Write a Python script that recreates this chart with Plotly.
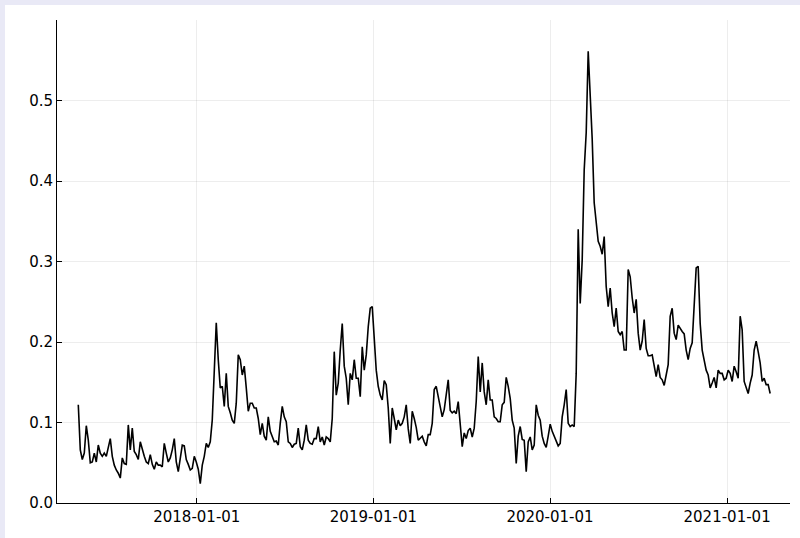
import pandas as pd
import plotly.graph_objects as go

start_date = "2017-05-01"
end_date = "2021-03-31"

values_2017 = [
    0.122, 0.066, 0.054, 0.062, 0.096, 0.078, 0.050, 0.051, 0.062, 0.051,
    0.072, 0.062, 0.058, 0.062, 0.058, 0.068, 0.080, 0.058, 0.047, 0.041,
    0.037, 0.031, 0.056, 0.049, 0.048, 0.097, 0.066, 0.093, 0.064, 0.060,
    0.054, 0.076, 0.066, 0.058, 0.051, 0.049, 0.060, 0.048, 0.042, 0.051,
    0.047, 0.047, 0.045, 0.074, 0.062, 0.051, 0.056, 0.066, 0.080, 0.051,
    0.039, 0.054, 0.072, 0.071, 0.054, 0.048, 0.041, 0.043, 0.058, 0.051,
    0.042, 0.024, 0.047, 0.058, 0.074, 0.069, 0.076, 0.103, 0.157, 0.224,
    0.178, 0.143, 0.145, 0.120, 0.161, 0.120,
]
values_2018 = [
    0.112, 0.103, 0.099, 0.124, 0.184, 0.178, 0.159, 0.170, 0.143, 0.114,
    0.124, 0.124, 0.118, 0.118, 0.105, 0.085, 0.099, 0.083, 0.078, 0.107,
    0.089, 0.082, 0.076, 0.077, 0.072, 0.099, 0.120, 0.107, 0.101, 0.076,
    0.074, 0.069, 0.073, 0.074, 0.093, 0.070, 0.066, 0.078, 0.097, 0.078,
    0.074, 0.073, 0.080, 0.080, 0.095, 0.076, 0.082, 0.072, 0.082, 0.080,
    0.076, 0.105, 0.188, 0.134, 0.149, 0.190, 0.223, 0.170, 0.155, 0.122,
    0.161, 0.153, 0.178, 0.155, 0.155, 0.132, 0.194, 0.165, 0.184, 0.219,
    0.242, 0.244, 0.196, 0.165, 0.145, 0.134,
]
values_2019 = [
    0.128, 0.152, 0.147, 0.118, 0.074, 0.118, 0.105, 0.091, 0.103, 0.096,
    0.099, 0.107, 0.122, 0.092, 0.074, 0.114, 0.105, 0.094, 0.078, 0.080,
    0.083, 0.076, 0.071, 0.085, 0.085, 0.099, 0.141, 0.145, 0.132, 0.116,
    0.107, 0.116, 0.134, 0.153, 0.115, 0.112, 0.114, 0.111, 0.126, 0.101,
    0.070, 0.087, 0.080, 0.090, 0.093, 0.082, 0.093, 0.126, 0.182, 0.138,
    0.174, 0.138, 0.122, 0.153, 0.128, 0.128, 0.107, 0.105, 0.101, 0.101,
    0.122, 0.125, 0.156, 0.145, 0.130, 0.103, 0.093, 0.049, 0.083, 0.095,
    0.079, 0.078, 0.039, 0.076, 0.082, 0.066, 0.072, 0.122, 0.109, 0.103,
]
values_2020 = [
    0.083, 0.074, 0.069, 0.083, 0.098, 0.089, 0.083, 0.078, 0.071, 0.074,
    0.107, 0.122, 0.141, 0.099, 0.095, 0.097, 0.095, 0.161, 0.340, 0.248,
    0.302, 0.414, 0.460, 0.561, 0.508, 0.452, 0.373, 0.344, 0.325, 0.319,
    0.309, 0.331, 0.269, 0.244, 0.267, 0.236, 0.219, 0.242, 0.213, 0.209,
    0.213, 0.190, 0.190, 0.290, 0.281, 0.255, 0.236, 0.253, 0.211,
]
values_2020b = [
    0.190, 0.201, 0.228, 0.192, 0.183, 0.183, 0.184, 0.172, 0.157, 0.172,
    0.156, 0.153, 0.146, 0.159, 0.172, 0.232, 0.242, 0.211, 0.203, 0.221,
    0.216, 0.213, 0.210, 0.190, 0.178, 0.192, 0.199, 0.244, 0.292, 0.294,
    0.223, 0.190, 0.176, 0.165, 0.159, 0.143, 0.149, 0.156, 0.143, 0.165,
    0.161, 0.161, 0.153, 0.155, 0.165, 0.161, 0.151, 0.170, 0.163, 0.155,
    0.232, 0.215, 0.151, 0.143, 0.136, 0.149, 0.159, 0.190, 0.201, 0.188,
    0.174, 0.151, 0.155, 0.147, 0.147, 0.136,
]

values = values_2017 + values_2018 + values_2019 + values_2020 + values_2020b
dates = pd.date_range(start_date, end_date, periods=len(values))

tick_dates = ["2018-01-01", "2019-01-01", "2020-01-01", "2021-01-01"]
y_ticks = [0.0, 0.1, 0.2, 0.3, 0.4, 0.5]

fig = go.Figure()
fig.add_trace(go.Scatter(
    x=dates, y=values, mode="lines",
    line=dict(color="black", width=1.6),
    showlegend=False, hoverinfo="skip",
))

ml, mr, mt, mb = 57, 10, 20, 35
W, H = 800, 538
pw, ph = W - ml - mr, H - mt - mb

fig.add_shape(
    type="rect", xref="paper", yref="paper", layer="below",
    x0=(5 - ml) / pw, x1=(W + 20 - ml) / pw,
    y0=(H - mb - (H + 20)) / ph, y1=(H - mb - 5) / ph,
    fillcolor="white", line=dict(width=0),
)

fig.update_layout(
    width=W, height=H,
    margin=dict(l=ml, r=mr, t=mt, b=mb, pad=0),
    paper_bgcolor="#e9e9f6",
    plot_bgcolor="white",
    font=dict(family="DejaVu Sans", size=15, color="black"),
)
fig.update_xaxes(
    type="date",
    range=["2017-03-18", "2021-05-11"],
    tickvals=tick_dates, ticktext=tick_dates,
    showgrid=True, gridcolor="rgba(0,0,0,0.07)", gridwidth=1,
    showline=True, linecolor="black", linewidth=1,
    ticks="inside", ticklen=5, tickcolor="black", tickwidth=1,
    zeroline=False, mirror=False,
)
fig.update_yaxes(
    range=[0, 0.6],
    tickvals=y_ticks, ticktext=[f"{v:.1f}" for v in y_ticks],
    showgrid=True, gridcolor="rgba(0,0,0,0.07)", gridwidth=1,
    showline=True, linecolor="black", linewidth=1,
    ticks="inside", ticklen=5, tickcolor="black", tickwidth=1,
    zeroline=False, mirror=False,
)

fig.write_html("out.html")
